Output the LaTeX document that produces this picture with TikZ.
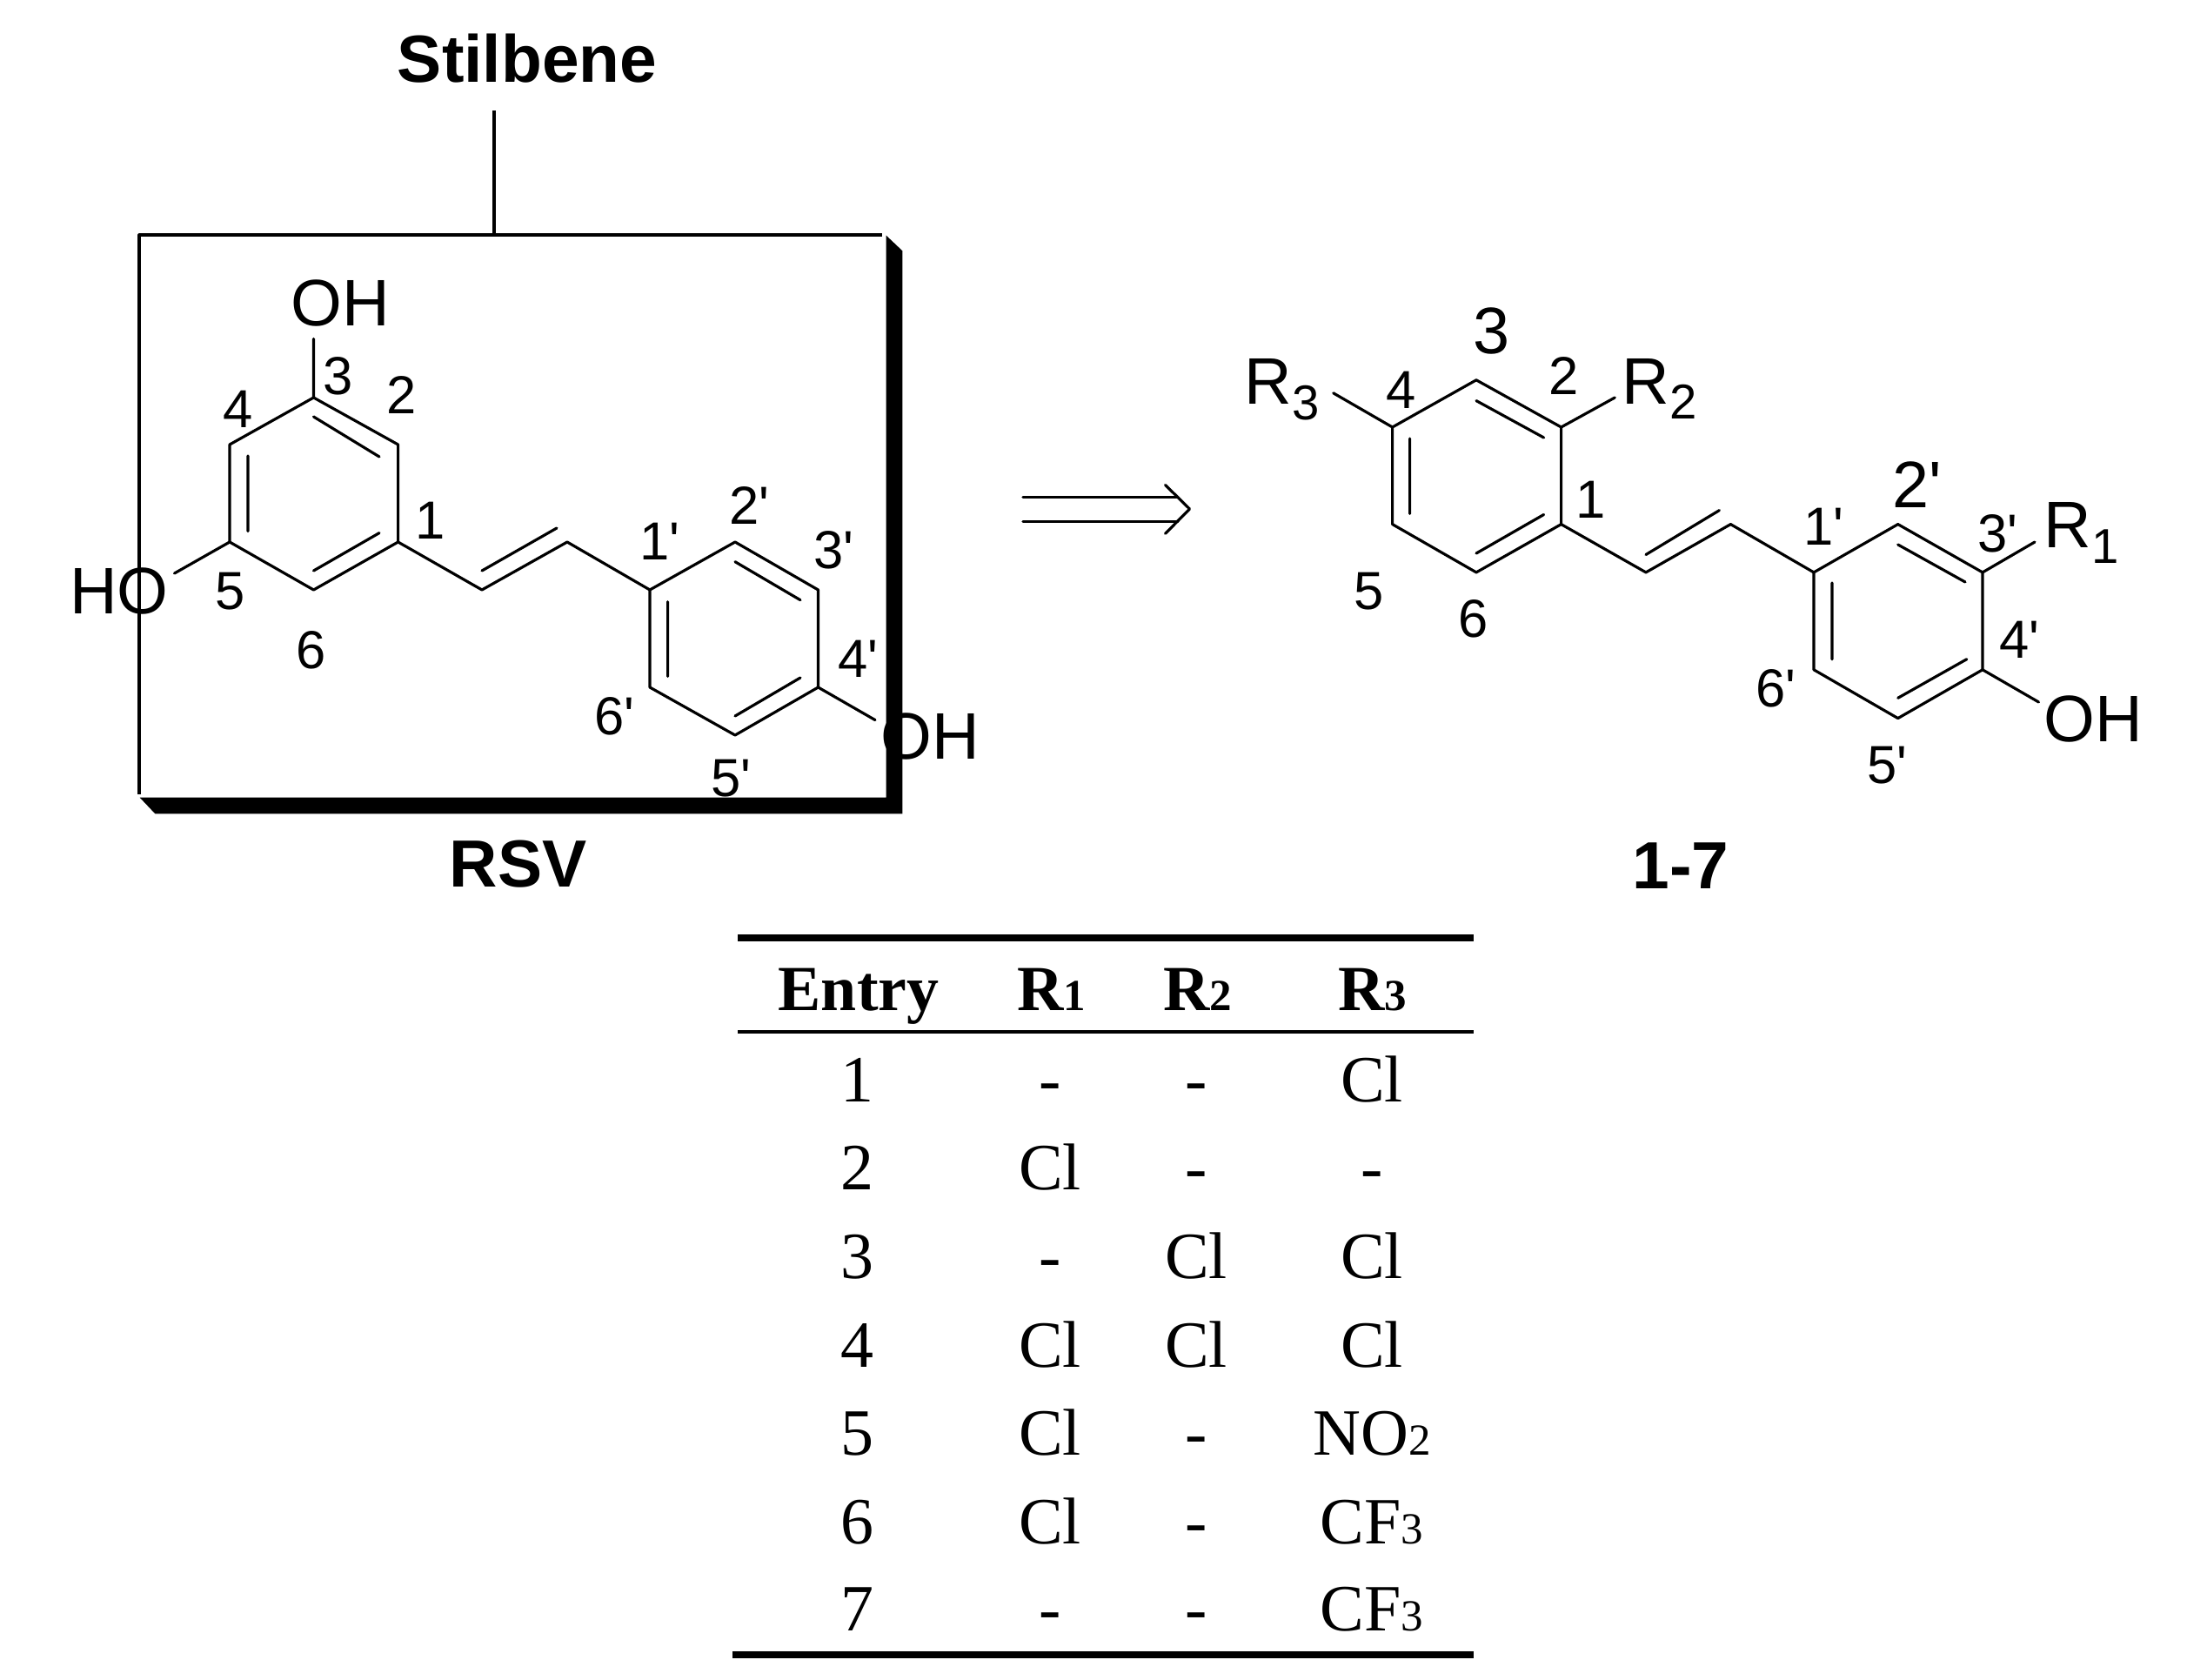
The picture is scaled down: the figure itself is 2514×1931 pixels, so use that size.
\documentclass[tikz,border=0pt]{standalone}
\usepackage{fontspec}
\newfontfamily\molfont{Liberation Sans}
\newfontfamily\tabfont{Liberation Serif}
\newcommand{\rsub}[1]{\raisebox{-5pt}{\fontsize{16}{16}\selectfont #1}}
\newcommand{\tsub}[1]{{\fontsize{14.5}{14.5}\selectfont #1}}
\tikzset{
  bond/.style={line width=0.9pt},
  atomlab/.style={inner sep=0pt,font=\molfont\fontsize{21.5}{24}\selectfont},
  numlab/.style={inner sep=0pt,font=\molfont\fontsize{17.5}{20}\selectfont},
  biglab/.style={inner sep=0pt,font=\molfont\bfseries\fontsize{21.8}{24}\selectfont},
  cell/.style={inner sep=0pt,anchor=base,font=\tabfont\fontsize{21.6}{24}\selectfont},
  headcell/.style={cell,font=\tabfont\bfseries\fontsize{21}{24}\selectfont}
}
\begin{document}
\begin{tikzpicture}[line join=round, line cap=round, >=stealth, x=0.01cm, y=-0.01cm]
\useasboundingbox (0,0) rectangle (2514,1931);
% box round the left molecule
\coordinate (boxa) at (160,270);
\coordinate (boxb) at (1014,270);
\coordinate (boxc) at (1018.7,916.7);
\coordinate (boxd) at (160,913);
\coordinate (stem) at (568,270);
\coordinate (stemtop) at (568,127);
\fill (1018.7,270.7)--(1037.3,288.3)--(1037.3,935.3)--(178.3,935.3)--(160.7,916.7)--(boxc)--cycle;
\draw[bond,line cap=butt] (boxd)--(boxa)--(boxb);
\draw[bond,line cap=butt] (stem)--(stemtop);
\node[biglab] (stilbene) at (606,67) {Stilbene};
\node[biglab] (rsv) at (595.5,993) {RSV};
% left molecule
\foreach \name/\x/\y in {a1/457.6/623,a2/457.6/511,a3/360.5/457,a4/264/511,a5/264/623,a6/360.5/678,
  v1/554/678,v2/652/623,b1/747/678,b2/845/623,b3/940.5/678,b4/940.5/790,b5/845/845,b6/747/790,
  o3/360.5/389.5,o5/200.5/659,o4/1006/827.6}{
\coordinate (\name) at (\x,\y);
}
\draw[bond] (a1)--(a2)--(a3)--(a4)--(a5)--(a6)--cycle;
\draw[bond] (a1)--(v1)--(v2)--(b1);
\draw[bond] (b1)--(b2)--(b3)--(b4)--(b5)--(b6)--cycle;
\draw[bond] (a3)--(o3) (a5)--(o5) (b4)--(o4);
\draw[bond] (360.5,479)--(436,525) (285,524)--(285,610.6) (360.5,656)--(436,612.6);
\draw[bond] (554,656)--(640,607);
\draw[bond] (845,645.7)--(920,689.7) (767.6,691.7)--(767.6,777.5) (845,823)--(920,779);
\node[atomlab] (oh3) at (391,348) {OH};
\node[atomlab] (ho5) at (137,679.5) {HO};
\node[atomlab] (oh4) at (1069,846.5) {OH};
\foreach \name/\x/\y/\txt in {la1/495/598/1,la2/461.5/454/2,la3/389/432.7/3,la4/274/470/4,la5/265/679.5/5,la6/358/747/6,
  lb1/758/622/1',lb2/861/581.5/2',lb3/958/632/3',lb4/986/757/4',lb5/840/894.5/5',lb6/706/823.5/6'}{
\node[numlab] (\name) at (\x,\y) {\txt};
}
% arrow
\coordinate (arra) at (1176,571.6);
\coordinate (arrb) at (1354,571.6);
\coordinate (arrc) at (1176,599.2);
\coordinate (arrd) at (1354,599.2);
\coordinate (tip) at (1367.5,585);
\draw[bond] (arra)--(arrb) (arrc)--(arrd);
\draw[bond] (1339.6,557.5)--(tip)--(1339.6,613.3);
% right molecule
\foreach \name/\x/\y in {c1/1794.6/602.6,c2/1794.6/491,c3/1697/436.8,c4/1600.6/491,c5/1600.6/602.6,c6/1697/657.9,
  w1/1892/657.9,w2/1989.4/602.6,d1/2085/657.9,d2/2181.7/602.6,d3/2279/657.9,d4/2279/769.8,d5/2181.7/825.6,d6/2085/769.8,
  r2/1856.3/457,r3/1532.7/451.8,r1/2339/623,oh/2343.5/807}{
\coordinate (\name) at (\x,\y);
}
\draw[bond] (c1)--(c2)--(c3)--(c4)--(c5)--(c6)--cycle;
\draw[bond] (c1)--(w1)--(w2)--(d1);
\draw[bond] (d1)--(d2)--(d3)--(d4)--(d5)--(d6)--cycle;
\draw[bond] (c2)--(r2) (c4)--(r3) (d3)--(r1) (d4)--(oh);
\draw[bond] (1697,460.6)--(1774.6,503) (1620.6,504)--(1620.6,590.5) (1697,636)--(1774.6,591.5);
\draw[bond] (1892,637.5)--(1976.4,586.6);
\draw[bond] (2181.7,626)--(2259,669) (2106,670)--(2106,757.7) (2181.7,802.3)--(2260.8,757.7);
\node[atomlab,anchor=base west] (labr3) at (1430,465) {R\rsub{3}};
\node[atomlab,anchor=base west] (labr2) at (1864,464.4) {R\rsub{2}};
\node[atomlab,anchor=base west] (labr1) at (2349,630) {R\rsub{1}};
\node[atomlab] (laboh) at (2406,826.5) {OH};
\node[atomlab] (big3) at (1714.5,380.6) {3};
\node[atomlab] (big2) at (2203.4,557.5) {2'};
\foreach \name/\x/\y/\txt in {lc1/1828.5/574/1,lc2/1798/432.5/2,lc4/1611/448.5/4,lc5/1573.6/679.7/5,lc6/1693.7/711/6,
  ld1/2096.4/605/1',ld3/2296.5/613/3',ld4/2321/735/4',ld5/2169/880/5',ld6/2041/791/6'}{
\node[numlab] (\name) at (\x,\y) {\txt};
}
\node[biglab] (lab17) at (1932,995) {1-7};
% table
\coordinate (ruleal) at (848,1078);
\coordinate (rulear) at (1694.4,1078);
\coordinate (rulebl) at (848,1186);
\coordinate (rulebr) at (1694.4,1186);
\coordinate (rulecl) at (842,1901.7);
\coordinate (rulecr) at (1694.4,1901.7);
\draw[line width=2.2pt,line cap=butt] (ruleal)--(rulear) (rulecl)--(rulecr);
\draw[line width=1pt,line cap=butt] (rulebl)--(rulebr);
\node[headcell] (hent) at (987,1161.7) {Entry};
\node[headcell] (hra) at (1209,1161.7) {R\tsub{1}};
\node[headcell] (hrb) at (1377,1161.7) {R\tsub{2}};
\node[headcell] (hrc) at (1578,1161.7) {R\tsub{3}};
\foreach \r/\yy/\a/\b/\c in {1/1266.7/-/-/Cl,2/1367.8/Cl/-/-,3/1469.4/-/Cl/Cl,4/1571/Cl/Cl/Cl,
  5/1672/Cl/-/{NO\tsub{2}},6/1774/Cl/-/{CF\tsub{3}},7/1874/-/-/{CF\tsub{3}}}{
\node[cell] (ent\r) at (985,\yy) {\r};
\node[cell] (ra\r) at (1207,\yy) {\a};
\node[cell] (rb\r) at (1375,\yy) {\b};
\node[cell] (rc\r) at (1577,\yy) {\c};
}
\end{tikzpicture}
\end{document}
